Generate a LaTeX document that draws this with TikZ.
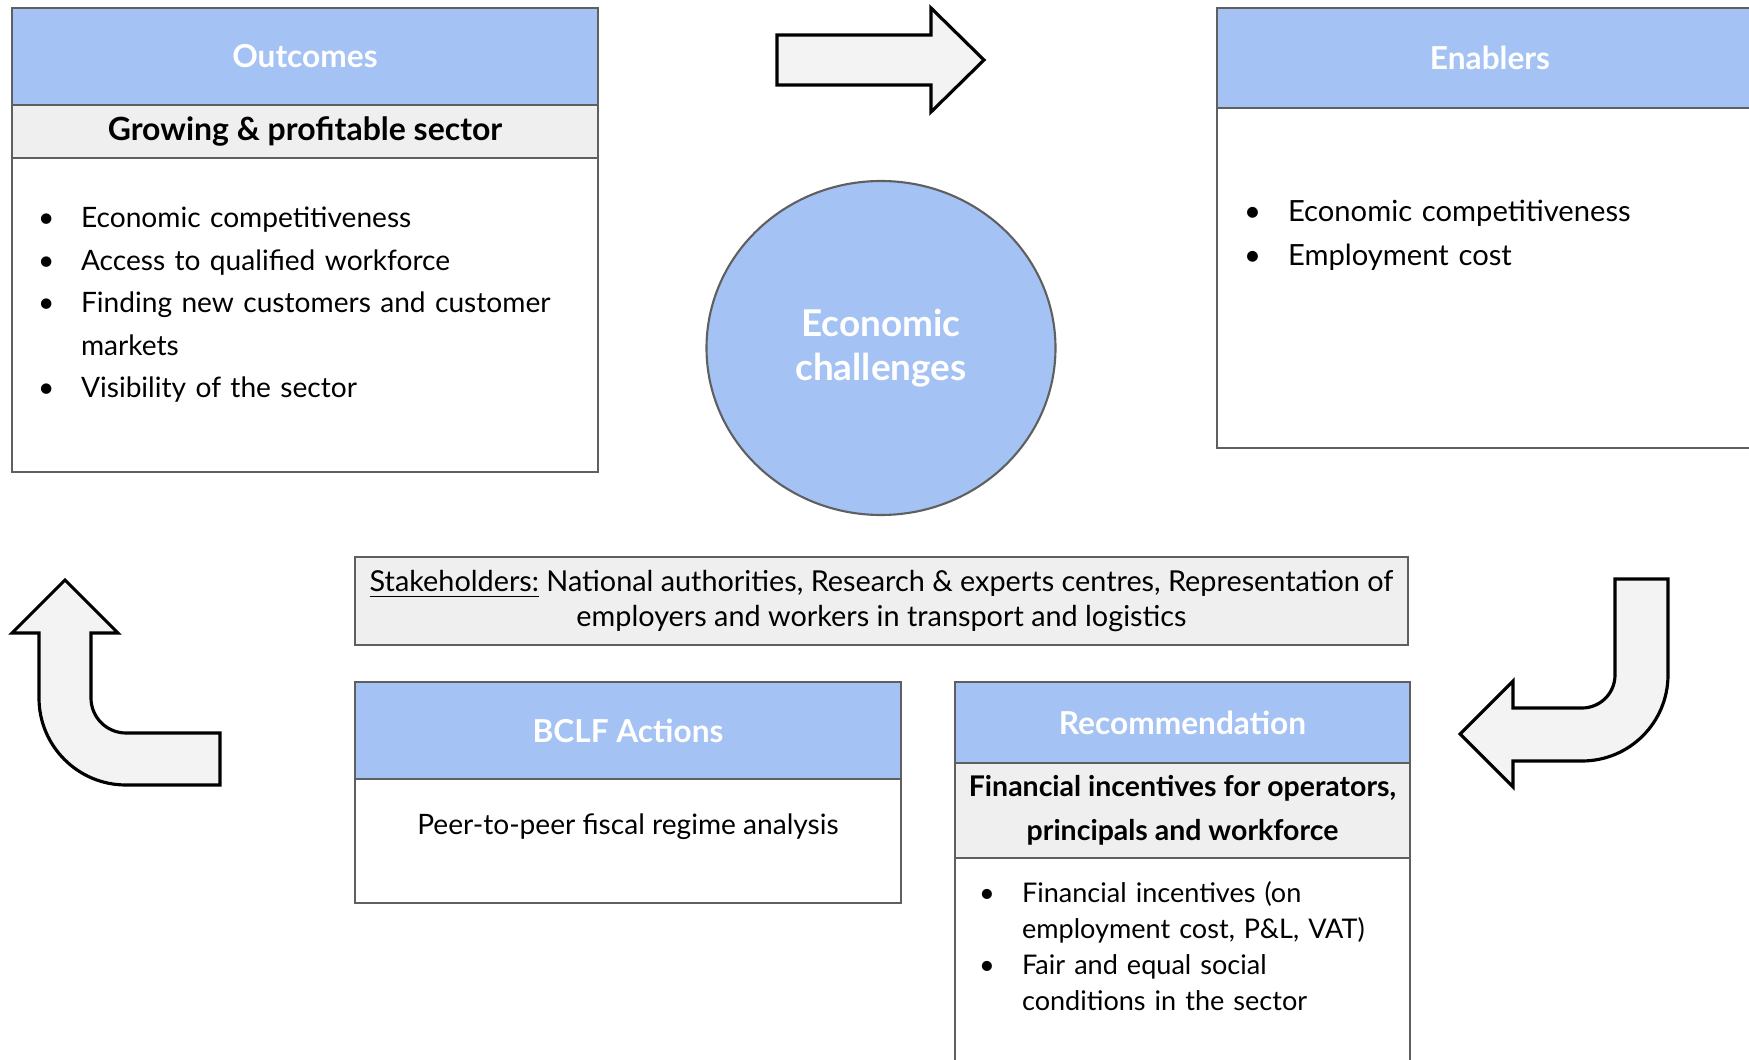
\documentclass[tikz,border=0pt]{standalone}
\usepackage{fontspec}
\setmainfont{Lato}
\usetikzlibrary{positioning, shapes.geometric}

\definecolor{hdrblue}{HTML}{A4C2F4}
\definecolor{subgray}{HTML}{EFEFEF}
\definecolor{arrgray}{HTML}{F3F3F3}
\definecolor{edgegray}{HTML}{5F5F5F}

\newcommand{\bitem}[2]{\par\noindent\hangindent=#1\hangafter=1\makebox[#1][l]{•}#2}

\begin{document}
\begin{tikzpicture}[
    head/.style={draw=edgegray, fill=hdrblue, text=white, font=\bfseries\fontsize{9}{11}\selectfont, inner sep=0pt, outer sep=0pt, anchor=north west},
    subhead/.style={draw=edgegray, fill=subgray, font=\bfseries\fontsize{8.5}{12.5}\selectfont, inner sep=0pt, outer sep=0pt, align=center},
    panel/.style={draw=edgegray, fill=white, inner sep=0pt, outer sep=0pt},
    bullets/.style={anchor=north west, inner sep=0pt, align=left},
    bigarrow/.style={draw=black, fill=arrgray, line width=0.9pt},
    line width=0.6pt
]
    \useasboundingbox (0,0) rectangle (17.49,-10.60);

    \node[head, minimum width=5.86cm, minimum height=0.97cm] (outHead) at (0.12,-0.08) {Outcomes};
    \node[subhead, minimum width=5.86cm, minimum height=0.53cm, below=0pt of outHead, font=\bfseries\fontsize{9.1}{12.5}\selectfont] (outSub) {Growing \& profitable sector};
    \node[panel, minimum width=5.86cm, minimum height=3.14cm, below=0pt of outSub] (outBody) {};
    \node[bullets, text width=5.4cm, font=\fontsize{8}{12.1}\selectfont] (outList) at ([xshift=0.25cm, yshift=-0.26cm]outBody.north west) {%
        \bitem{0.43cm}{Economic competitiveness}
        \bitem{0.43cm}{Access to qualified workforce}
        \bitem{0.43cm}{Finding new customers and customer\newline markets}
        \bitem{0.43cm}{Visibility of the sector}\par};

    \node[head, minimum width=5.46cm, minimum height=1.00cm] (enbHead) at (12.17,-0.08) {Enablers};
    \node[panel, minimum width=5.46cm, minimum height=3.40cm, below=0pt of enbHead] (enbBody) {};
    \node[bullets, text width=5cm, font=\fontsize{8.3}{12.5}\selectfont] (enbList) at ([xshift=0.26cm, yshift=-0.69cm]enbBody.north west) {%
        \bitem{0.44cm}{Economic competitiveness}
        \bitem{0.44cm}{Employment cost}\par};

    \node[ellipse, draw=edgegray, fill=hdrblue, minimum width=3.49cm, minimum height=3.34cm, text=white, font=\bfseries\fontsize{10.5}{12.5}\selectfont, align=center] (econ) at (8.81,-3.48) {Economic\\challenges};

    \draw[bigarrow] (7.77,-0.35) -- (9.31,-0.35) -- (9.31,-0.08) -- (9.84,-0.60) -- (9.31,-1.12) -- (9.31,-0.85) -- (7.77,-0.85) -- cycle;

    \node[panel, fill=subgray, minimum width=10.53cm, minimum height=0.88cm, align=center, font=\fontsize{8.2}{10.2}\selectfont] (stake) at (8.815,-6.01) {\underline{Stakeholders:} National authorities, Research \& experts centres, Representation of\\employers and workers in transport and logistics};

    \node[head, minimum width=5.46cm, minimum height=0.97cm] (bclfHead) at (3.55,-6.82) {BCLF Actions};
    \node[panel, minimum width=5.46cm, minimum height=1.24cm, below=0pt of bclfHead] (bclfBody) {};
    \node[font=\fontsize{8}{10}\selectfont] (bclfText) at ([yshift=0.14cm]bclfBody.center) {Peer-to-peer fiscal regime analysis};

    \node[head, minimum width=4.55cm, minimum height=0.81cm] (recHead) at (9.55,-6.82) {Recommendation};
    \node[subhead, minimum width=4.55cm, minimum height=0.95cm, below=0pt of recHead, font=\bfseries\fontsize{8.1}{12.5}\selectfont] (recSub) {Financial incentives for operators,\\principals and workforce};
    \node[panel, minimum width=4.55cm, minimum height=2.2cm, below=0pt of recSub] (recBody) {};
    \node[bullets, text width=4.2cm, font=\fontsize{7.7}{10.2}\selectfont] (recList) at ([xshift=0.23cm, yshift=-0.08cm]recBody.north west) {%
        \bitem{0.43cm}{Financial incentives (on\newline employment cost, P\&L, VAT)}
        \bitem{0.43cm}{Fair and equal social\newline conditions in the sector}\par};

    \draw[bigarrow] (0.65,-5.80) -- (1.18,-6.33) -- (0.91,-6.33) -- (0.91,-6.98) arc[start angle=180, end angle=270, radius=0.35] -- (2.20,-7.33) -- (2.20,-7.85) -- (1.26,-7.85) arc[start angle=270, end angle=180, radius=0.87] -- (0.39,-6.33) -- (0.12,-6.33) -- cycle;

    \draw[bigarrow] (16.15,-5.79) -- (16.68,-5.79) -- (16.68,-6.75) arc[start angle=0, end angle=-90, radius=0.86] -- (15.13,-7.61) -- (15.13,-7.87) -- (14.60,-7.34) -- (15.13,-6.81) -- (15.13,-7.08) -- (15.82,-7.08) arc[start angle=-90, end angle=0, radius=0.33] -- cycle;
\end{tikzpicture}
\end{document}
